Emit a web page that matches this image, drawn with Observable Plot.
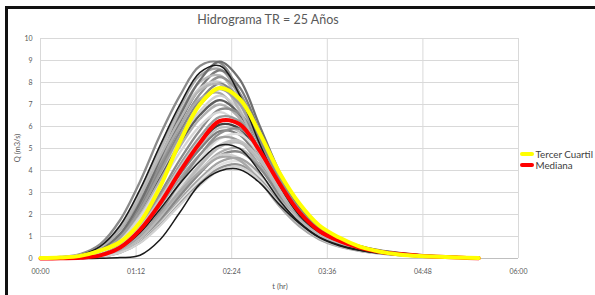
<!DOCTYPE html>
<html>
<head>
<meta charset="utf-8">
<script src="https://cdn.jsdelivr.net/npm/d3@7"></script>
<script src="https://cdn.jsdelivr.net/npm/@observablehq/plot@0.6"></script>
<style>
  html, body { margin: 0; padding: 0; background: #fff; width: 595px; height: 295px; overflow: hidden; }
  #wrap { position: relative; width: 595px; height: 295px; font-family: Lato, "Open Sans", sans-serif; }
  #frame { position: absolute; left: 5px; top: 6px; width: 600px; height: 286px; border-left: 3px solid #111; border-top: 3px solid #111; border-bottom: 1px solid #8a8a8a; pointer-events: none; }
  #chart { position: absolute; left: 0; top: 0; }
  .lbl { position: absolute; white-space: nowrap; color: #595959; }
  #title { left: 268px; top: 19px; transform: translate(-50%, -50%); font-size: 12.5px; }
  #ylab { left: 17px; top: 148px; transform: translate(-50%, -50%) rotate(-90deg); font-size: 7.5px; }
  #xlab { left: 280px; top: 286px; transform: translate(-50%, -50%); font-size: 7.5px; }
  .sw { position: absolute; width: 14px; height: 4px; border-radius: 2px; }
  .lt { position: absolute; font-size: 9.8px; color: #404040; white-space: nowrap; transform: translateY(-50%); }
</style>
</head>
<body>
<div id="wrap">
  <div id="chart"></div>
  <div id="frame"></div>
  <div id="title" class="lbl">Hidrograma TR = 25 Años</div>
  <div id="ylab" class="lbl">Q (m3/s)</div>
  <div id="xlab" class="lbl">t (hr)</div>
</div>
<script>
// time (minutes)
const tMin = [0,15,30,45,60,75,90,105,120,135,150,165,180,195,210,225,240,255,270,285,300,315,330];

const xTicks = [0,72,144,216,288,360];
const xTickLabels = ["00:00","01:12","02:24","03:36","04:48","06:00"];
const yTicks = [0,1,2,3,4,5,6,7,8,9,10];

const seriesNames = ["Tercer Cuartil","Mediana"];
const tercerCuartil = [0.02,0.04,0.12,0.36,0.75,1.65,3.25,5.3,7.0,7.75,7.25,5.7,3.9,2.5,1.5,0.95,0.55,0.32,0.18,0.11,0.08,0.05,0.02];
const mediana = [0,0.01,0.03,0.14,0.5,1.3,2.5,3.95,5.25,6.25,6.1,4.9,3.4,2.1,1.25,0.8,0.5,0.31,0.2,0.13,0.08,0.04,0.01];

// simulated hydrographs
const sim01 = [0.03,0.07,0.2,0.65,1.75,3.5,5.6,7.4,8.75,8.9,7.5,5.3,3.4,2.05,1.25,0.8,0.52,0.34,0.23,0.15,0.1,0.06,0.04];
const sim02 = [0.02,0.05,0.16,0.55,1.5,3.14,5.13,6.99,8.45,8.76,7.43,5.22,3.32,1.96,1.19,0.77,0.5,0.33,0.21,0.13,0.09,0.05,0.04];
const sim03 = [0.02,0.05,0.16,0.54,1.48,3.09,5.05,6.87,8.31,8.61,7.31,5.13,3.26,1.93,1.17,0.76,0.49,0.32,0.21,0.13,0.09,0.05,0.03];
const sim04 = [0.01,0.03,0.1,0.36,1.07,2.44,4.32,6.2,7.74,8.55,7.78,5.77,3.76,2.27,1.35,0.86,0.56,0.36,0.24,0.15,0.09,0.06,0.03];
const sim05 = [0.02,0.05,0.15,0.52,1.43,2.98,4.87,6.64,8.02,8.32,7.06,4.96,3.15,1.86,1.13,0.73,0.47,0.31,0.2,0.13,0.08,0.05,0.03];
const sim06 = [0.01,0.03,0.1,0.35,1.03,2.35,4.17,5.98,7.47,8.25,7.51,5.57,3.63,2.19,1.3,0.83,0.54,0.35,0.23,0.15,0.09,0.06,0.03];
const sim07 = [0.02,0.05,0.15,0.5,1.38,2.88,4.7,6.4,7.74,8.02,6.8,4.78,3.04,1.8,1.09,0.7,0.45,0.3,0.19,0.12,0.08,0.05,0.03];
const sim08 = [0.01,0.03,0.1,0.33,0.99,2.27,4.01,5.76,7.19,7.95,7.23,5.37,3.5,2.11,1.26,0.8,0.52,0.33,0.22,0.14,0.09,0.06,0.03];
const sim09 = [0.02,0.05,0.14,0.47,1.29,2.7,4.41,6.0,7.26,7.52,6.38,4.48,2.85,1.69,1.03,0.66,0.43,0.28,0.18,0.11,0.08,0.05,0.03];
const sim10 = [0.01,0.03,0.09,0.31,0.93,2.11,3.74,5.37,6.7,7.4,6.73,5.0,3.26,1.96,1.17,0.74,0.48,0.31,0.21,0.13,0.08,0.05,0.03];
const sim11 = [0.01,0.03,0.09,0.3,0.9,2.05,3.64,5.22,6.52,7.2,6.55,4.86,3.17,1.91,1.14,0.72,0.47,0.3,0.2,0.13,0.08,0.05,0.03];
const sim12 = [0.01,0.03,0.08,0.29,0.88,2.0,3.54,5.08,6.34,7.0,6.37,4.73,3.08,1.86,1.11,0.7,0.46,0.29,0.2,0.13,0.08,0.05,0.03];
const sim13 = [0.01,0.02,0.05,0.19,0.62,1.54,2.95,4.49,5.82,6.78,6.58,5.21,3.49,2.16,1.28,0.8,0.51,0.34,0.22,0.14,0.09,0.05,0.03];
const sim14 = [0.01,0.03,0.08,0.28,0.83,1.9,3.36,4.82,6.02,6.65,6.05,4.49,2.93,1.76,1.05,0.67,0.43,0.28,0.19,0.12,0.07,0.05,0.03];
const sim15 = [0.01,0.02,0.05,0.18,0.59,1.46,2.8,4.26,5.53,6.44,6.24,4.94,3.32,2.05,1.22,0.76,0.49,0.32,0.21,0.14,0.08,0.05,0.03];
const sim16 = [0.01,0.02,0.05,0.17,0.55,1.38,2.64,4.03,5.23,6.09,5.9,4.67,3.14,1.94,1.15,0.72,0.46,0.3,0.2,0.13,0.08,0.05,0.03];
const sim17 = [0.01,0.02,0.05,0.17,0.54,1.35,2.58,3.93,5.1,5.94,5.76,4.56,3.06,1.89,1.12,0.7,0.45,0.29,0.19,0.13,0.08,0.05,0.03];
const sim18 = [0.01,0.02,0.05,0.16,0.53,1.32,2.52,3.83,4.97,5.79,5.62,4.45,2.98,1.84,1.09,0.68,0.44,0.29,0.19,0.12,0.08,0.05,0.03];
const sim19 = [0.01,0.01,0.03,0.1,0.35,0.97,2.02,3.31,4.5,5.44,5.64,4.79,3.36,2.14,1.27,0.77,0.5,0.32,0.21,0.14,0.09,0.06,0.03];
const sim20 = [0.01,0.02,0.04,0.16,0.5,1.25,2.39,3.64,4.72,5.49,5.33,4.22,2.83,1.75,1.04,0.65,0.42,0.27,0.18,0.12,0.07,0.04,0.03];
const sim21 = [0.01,0.01,0.03,0.1,0.33,0.92,1.92,3.13,4.27,5.16,5.35,4.54,3.19,2.03,1.2,0.73,0.47,0.3,0.2,0.13,0.08,0.05,0.03];
const sim22 = [0.01,0.02,0.04,0.15,0.47,1.17,2.24,3.41,4.42,5.15,4.99,3.95,2.65,1.64,0.97,0.61,0.39,0.25,0.17,0.11,0.07,0.04,0.03];
const sim23 = [0.01,0.01,0.03,0.09,0.31,0.86,1.79,2.93,3.99,4.82,5.0,4.24,2.98,1.89,1.12,0.68,0.44,0.28,0.19,0.12,0.08,0.05,0.03];
const sim24 = [0,0.01,0.03,0.09,0.3,0.83,1.74,2.84,3.87,4.68,4.85,4.12,2.89,1.84,1.09,0.66,0.43,0.27,0.18,0.12,0.07,0.05,0.03];
const sim25 = [0,0.01,0.04,0.13,0.43,1.07,2.04,3.11,4.04,4.7,4.56,3.61,2.42,1.5,0.89,0.56,0.36,0.23,0.15,0.1,0.06,0.04,0.02];
const sim26 = [0,0.01,0.03,0.08,0.29,0.78,1.63,2.67,3.63,4.39,4.55,3.86,2.71,1.73,1.02,0.62,0.4,0.26,0.17,0.11,0.07,0.05,0.03];
const sim27 = [0,0.01,0.03,0.08,0.28,0.76,1.58,2.58,3.52,4.25,4.41,3.74,2.63,1.67,0.99,0.6,0.39,0.25,0.16,0.11,0.07,0.04,0.03];
const sim28 = [0,0.01,0.03,0.08,0.27,0.73,1.53,2.49,3.4,4.11,4.26,3.61,2.54,1.61,0.95,0.58,0.37,0.24,0.16,0.1,0.06,0.04,0.03];
const sim29 = [0,0,0,0.01,0.04,0.15,0.85,2.1,3.38,3.98,4.05,3.45,2.45,1.6,0.95,0.58,0.37,0.24,0.16,0.1,0.06,0.04,0.02];
const sim30 = [0.01,0.04,0.11,0.38,1.12,2.55,4.52,6.49,8.1,8.95,8.14,6.04,3.94,2.37,1.41,0.9,0.58,0.38,0.25,0.16,0.1,0.06,0.04];
const sim31 = [0.02,0.05,0.14,0.5,1.36,2.84,4.64,6.32,7.64,7.92,6.72,4.72,3.0,1.78,1.08,0.7,0.45,0.3,0.19,0.12,0.08,0.05,0.03];
const sim32 = [0.01,0.03,0.09,0.32,0.96,2.19,3.89,5.58,6.97,7.7,7.01,5.2,3.39,2.04,1.22,0.77,0.5,0.32,0.22,0.14,0.08,0.05,0.03];
const sim33 = [0.01,0.02,0.05,0.18,0.57,1.42,2.71,4.13,5.36,6.24,6.05,4.79,3.21,1.98,1.18,0.74,0.47,0.31,0.2,0.13,0.08,0.05,0.03];
const sim34 = [0.01,0.01,0.04,0.11,0.37,1.01,2.11,3.45,4.7,5.68,5.89,5.0,3.51,2.23,1.32,0.8,0.52,0.33,0.22,0.14,0.09,0.06,0.04];
const sim35 = [0.01,0.01,0.03,0.1,0.33,0.9,1.88,3.07,4.19,5.06,5.25,4.45,3.13,1.99,1.18,0.72,0.46,0.3,0.2,0.13,0.08,0.05,0.03];
const sim36 = [0,0.01,0.04,0.13,0.42,1.05,2.0,3.05,3.95,4.6,4.46,3.53,2.37,1.46,0.87,0.54,0.35,0.23,0.15,0.1,0.06,0.04,0.02];
const sim37 = [0,0.01,0.03,0.08,0.26,0.71,1.49,2.44,3.32,4.01,4.16,3.53,2.48,1.58,0.93,0.57,0.37,0.24,0.16,0.1,0.06,0.04,0.03];

const simValues = [sim01,sim02,sim03,sim04,sim05,sim06,sim07,sim08,sim09,sim10,sim11,sim12,sim13,sim14,sim15,sim16,sim17,sim18,sim19,sim20,sim21,sim22,sim23,sim24,sim25,sim26,sim27,sim28,sim29,sim30,sim31,sim32,sim33,sim34,sim35,sim36,sim37];
const simShade = ["#8a8a8a","#1a1a1a","#a6a6a6","#7a7a7a","#b8b8b8","#939393","#c8c8c8","#858585","#a9a9a9","#d0d0d0","#5e5e5e","#b0b0b0","#8c8c8c","#d6d6d6","#9a9a9a","#404040","#bdbdbd","#7e7e7e","#dcdcdc","#a0a0a0","#c2c2c2","#1a1a1a","#adadad","#888888","#cfcfcf","#a3a3a3","#e2e2e2","#949494","#1a1a1a","#6f6f6f","#b5b5b5","#9d9d9d","#c6c6c6","#8f8f8f","#bababa","#a8a8a8","#d2d2d2"];
const simIsBlack = simShade.map(c => c === "#1a1a1a");

const rows = v => tMin.map((t, i) => ({t, q: v[i]}));
const fmtX = d => xTickLabels[xTicks.indexOf(d)];

const marks = [
  Plot.gridY(yTicks, {stroke: "#d9d9d9", strokeOpacity: 1, strokeWidth: 1}),
  Plot.gridX(xTicks, {stroke: "#d9d9d9", strokeOpacity: 1, strokeWidth: 1}),
  Plot.ruleY([0], {stroke: "#bfbfbf", strokeWidth: 1})
];
simValues.forEach((v, i) => {
  if (!simIsBlack[i]) marks.push(Plot.line(rows(v), {x: "t", y: "q", stroke: simShade[i], strokeWidth: 2.3, curve: "catmull-rom"}));
});
simValues.forEach((v, i) => {
  if (simIsBlack[i]) marks.push(Plot.line(rows(v), {x: "t", y: "q", stroke: simShade[i], strokeWidth: 1.5, curve: "catmull-rom"}));
});
marks.push(Plot.line(rows(mediana), {x: "t", y: "q", stroke: "#ff0000", strokeWidth: 4, curve: "catmull-rom"}));
marks.push(Plot.line(rows(tercerCuartil), {x: "t", y: "q", stroke: "#ffff00", strokeWidth: 4, curve: "catmull-rom"}));
marks.push(Plot.axisX(xTicks, {tickSize: 0, tickPadding: 11, tickFormat: fmtX, label: null}));
marks.push(Plot.axisY(yTicks, {tickSize: 0, tickPadding: 8, label: null}));

const chart = Plot.plot({
  width: 595,
  height: 295,
  marginLeft: 40,
  marginRight: 77,
  marginTop: 38,
  marginBottom: 37,
  x: {domain: [0, 360]},
  y: {domain: [0, 10]},
  style: {fontSize: "7px", fontFamily: "Lato, 'Open Sans', sans-serif", color: "#595959", background: "transparent"},
  marks
});
document.getElementById("chart").appendChild(chart);

// legend
const wrap = document.getElementById("wrap");
const legColors = ["#ffff00", "#ff0000"];
seriesNames.forEach((name, i) => {
  const y = 154 + i * 11.3;
  const sw = document.createElement("div");
  sw.className = "sw";
  sw.style.left = "520px";
  sw.style.top = (y - 2) + "px";
  sw.style.background = legColors[i];
  wrap.appendChild(sw);
  const tx = document.createElement("div");
  tx.className = "lt";
  tx.style.left = "535.5px";
  tx.style.top = y + "px";
  tx.textContent = name;
  wrap.appendChild(tx);
});
</script>
</body>
</html>
